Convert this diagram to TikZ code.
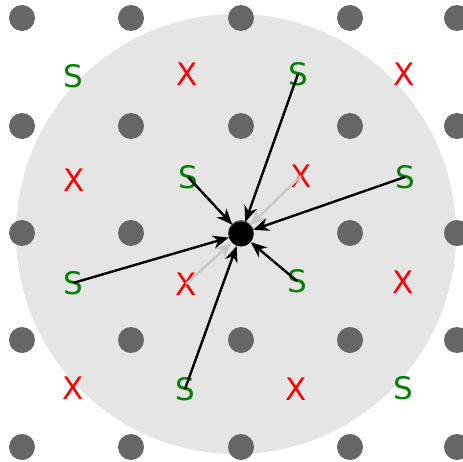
\documentclass[tikz,border=0pt]{standalone}
\usepackage{fontspec}
\setmainfont{DejaVu Sans}
\usetikzlibrary{arrows.meta}
\definecolor{dotgray}{HTML}{666666}
\definecolor{bggray}{HTML}{E5E5E5}
\definecolor{sgreen}{HTML}{008000}
\definecolor{xred}{HTML}{FF0000}
\definecolor{faint}{HTML}{C8C8C8}
\tikzset{
  griddot/.style={circle,fill=dotgray,inner sep=0pt,minimum size=26pt},
  slabel/.style={text=sgreen,font=\fontsize{31}{31}\selectfont,inner sep=0pt},
  xlabel/.style={text=xred,font=\fontsize{31}{31}\selectfont,inner sep=0pt},
  hub/.style={circle,fill=black,inner sep=0pt,minimum size=25pt},
  link/.style={line width=2.4pt,-{Stealth[length=16pt,width=13pt,inset=5pt]}},
  faintlink/.style={line width=2.4pt,faint,-{Stealth[length=16pt,width=13pt,inset=5pt]}}
}
\begin{document}
\begin{tikzpicture}[x=1pt,y=-1pt]
\useasboundingbox (0,0) rectangle (463,461);
\fill[bggray] (236,234) circle (220);
% grid dots
\foreach \i/\x in {0/22,1/131,2/241,3/350,4/457}{
  \foreach \j/\y in {0/18,1/126,2/233,3/340,4/447}{
    \node[griddot] (d-\i-\j) at (\x,\y) {};
  }
}
% labels
\node[slabel] (s1) at (73,76) {S};
\node[xlabel] (x1) at (187,74) {X};
\node[slabel] (s2) at (298,74) {S};
\node[xlabel] (x2) at (404,74) {X};
\node[xlabel] (x3) at (74,180) {X};
\node[slabel] (s3) at (188,177) {S};
\node[xlabel] (x4) at (301,176) {X};
\node[slabel] (s4) at (405,177) {S};
\node[slabel] (s5) at (73,283) {S};
\node[xlabel] (x5) at (186,284) {X};
\node[slabel] (s6) at (297,281) {S};
\node[xlabel] (x6) at (403,282) {X};
\node[xlabel] (x7) at (73,388) {X};
\node[slabel] (s7) at (185,389) {S};
\node[xlabel] (x8) at (296,389) {X};
\node[slabel] (s8) at (403,388) {S};
% hub
\node[hub] (c) at (241,234) {};
% faint links
\draw[faintlink] (x4.center) -- (c);
\draw[faintlink] (x5.center) -- (c);
% links
\draw[link] (s2.center) -- (c);
\draw[link] (s3.center) -- (c);
\draw[link] (s4.center) -- (c);
\draw[link] (s5.center) -- (c);
\draw[link] (s6.center) -- (c);
\draw[link] (s7.center) -- (c);
\end{tikzpicture}
\end{document}
